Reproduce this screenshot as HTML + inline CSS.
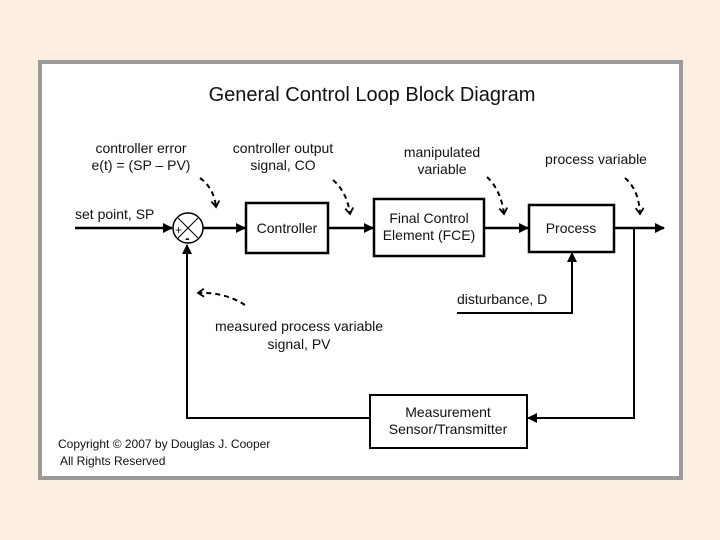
<!DOCTYPE html>
<html><head><style>
body{margin:0;width:720px;height:540px;background:#fdeee2;overflow:hidden}
svg{position:absolute;left:0;top:0}
text{font-family:"Liberation Sans",sans-serif;fill:#111}
</style></head><body>
<svg width="720" height="540" viewBox="0 0 720 540">
<defs><marker id="a" markerWidth="10" markerHeight="10" refX="9" refY="5" orient="auto" markerUnits="userSpaceOnUse"><path d="M0,0 L10,5 L0,10 z" fill="#000"/></marker>
<marker id="v" markerWidth="10" markerHeight="10" refX="8" refY="5" orient="auto" markerUnits="userSpaceOnUse"><path d="M2,1 L8,5 L2,9" fill="none" stroke="#000" stroke-width="1.8"/></marker></defs>
<rect x="40" y="62" width="641" height="416" fill="#fff" stroke="#9a9a9a" stroke-width="4"/>
<g stroke="#000" stroke-width="2.5" fill="none">
<rect x="246" y="203" width="82" height="50" fill="#fff"/>
<rect x="374" y="199" width="110" height="57" fill="#fff"/>
<rect x="529" y="205" width="85" height="47" fill="#fff"/>
<rect x="370" y="395" width="157" height="53" fill="#fff" stroke-width="2"/>
<line x1="75" y1="228" x2="172" y2="228" marker-end="url(#a)"/>
<line x1="203" y1="228" x2="245" y2="228" marker-end="url(#a)"/>
<line x1="328" y1="228" x2="373" y2="228" marker-end="url(#a)"/>
<line x1="484" y1="228" x2="528" y2="228" marker-end="url(#a)"/>
<line x1="614" y1="228" x2="664" y2="228" marker-end="url(#a)"/>
<polyline points="634,228 634,418 528,418" marker-end="url(#a)" stroke-width="2"/>
<polyline points="370,418 187,418 187,245" marker-end="url(#a)" stroke-width="2"/>
<polyline points="457,313 572,313 572,253" marker-end="url(#a)" stroke-width="2"/>
</g>
<text x="372" y="101" font-size="20" text-anchor="middle">General Control Loop Block Diagram</text>
<g font-size="14" text-anchor="middle">
<text x="141" y="153">controller error</text><text x="141" y="170">e(t) = (SP – PV)</text>
<text x="283" y="153">controller output</text><text x="283" y="170">signal, CO</text>
<text x="442" y="157">manipulated</text><text x="442" y="174">variable</text>
<text x="596" y="164">process variable</text>
<text x="299" y="331">measured process variable</text><text x="299" y="349">signal, PV</text>
<text x="448" y="417">Measurement</text><text x="448" y="434">Sensor/Transmitter</text>
<text x="287" y="233">Controller</text>
<text x="429" y="223">Final Control</text><text x="429" y="240">Element (FCE)</text>
<text x="571" y="233">Process</text>
</g>
<text x="75" y="219" font-size="14">set point, SP</text>
<text x="457" y="304" font-size="14">disturbance, D</text>
<text x="58" y="448" font-size="12">Copyright © 2007 by Douglas J. Cooper</text>
<text x="60" y="465" font-size="12">All Rights Reserved</text>
<circle cx="188" cy="228" r="15" fill="#fff" stroke="#000" stroke-width="1.5"/>
<path d="M177.4,217.4 L198.6,238.6 M198.6,217.4 L177.4,238.6" stroke="#000" stroke-width="1"/>
<text x="175" y="234" font-size="12">+</text><text x="185" y="243" font-size="14" font-weight="bold">-</text>
<g stroke="#000" stroke-width="2" fill="none" stroke-dasharray="5,4">
<path d="M200,178 Q214,188 216,207" marker-end="url(#v)"/>
<path d="M333,180 Q347,192 350,214" marker-end="url(#v)"/>
<path d="M487,177 Q501,190 504,214" marker-end="url(#v)"/>
<path d="M625,178 Q639,190 640,214" marker-end="url(#v)"/>
<path d="M245,305 Q225,292 198,293" marker-end="url(#v)"/>
</g>
</svg>
</body></html>
